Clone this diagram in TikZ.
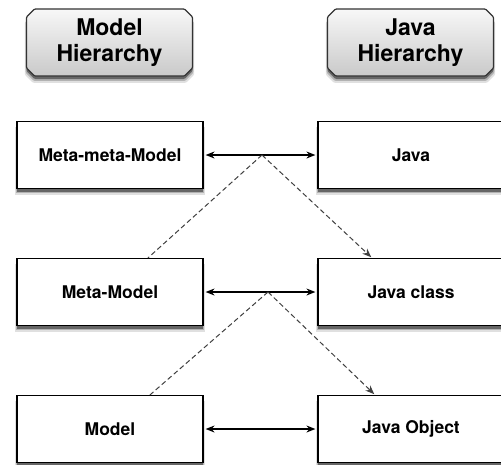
\documentclass[tikz,border=0pt]{standalone}
\usepackage{fontspec}
\setmainfont{TeX Gyre Heros}
\usetikzlibrary{arrows.meta,calc,shadows,shapes.misc}

\begin{document}
\begin{tikzpicture}[x=1pt,y=-1pt,
  softshadow/.style={
    general shadow={shadow xshift=0pt, shadow yshift=-6pt, shadow scale=1.02, fill=black!12},
    general shadow={shadow xshift=0pt, shadow yshift=-4.5pt, shadow scale=1.01, fill=black!30},
    general shadow={shadow xshift=0pt, shadow yshift=-3pt, fill=black!60}},
  hdr/.style={chamfered rectangle, chamfered rectangle xsep=4pt,
    chamfered rectangle ysep=4pt, minimum width=166, minimum height=67,
    align=center, inner sep=0, draw=black!80, line width=1.2,
    rounded corners=1pt,
    top color=gray!6, bottom color=gray!42, softshadow,
    font=\fontsize{23}{26}\selectfont\bfseries},
  box/.style={draw, line width=1.2, fill=white, minimum width=186,
    minimum height=67, inner sep=0, softshadow,
    font=\fontsize{17.5}{20}\selectfont\bfseries},
  link/.style={line width=1.2,
    {Stealth[length=9pt,width=7pt]}-{Stealth[length=9pt,width=7pt]},
    shorten <=2pt, shorten >=2pt},
  trace/.style={line width=1, black!75, dash pattern=on 5pt off 3pt},
  tracearrow/.style={trace, -{Stealth[length=9pt,width=7pt]}, shorten >=1pt}]

\fill[white] (0,0) rectangle (501,464);
\useasboundingbox (0,0) rectangle (501,464);

% column headers
\node[hdr] (mh) at (109.5,42.5) {Model\\Hierarchy};
\node[hdr] (jh) at (410.5,42.5) {Java\\Hierarchy};

% hierarchy levels
\node[box] (mmm) at (110,155) {Meta-meta-Model};
\node[box] (jv)  at (411,155) {Java};
\node[box] (mm)  at (110,292) {Meta-Model};
\node[box] (jc)  at (411,292) {Java class};
\node[box] (m)   at (110,429) {Model};
\node[box] (jo)  at (411,429) {Java Object};

% correspondences
\draw[link] (mmm) -- (jv);
\draw[link] (mm) -- (jc);
\draw[link] (m) -- (jo);

% instantiation traces
\coordinate (t1) at (262,155);
\coordinate (t2) at (268,292);
\draw[trace] (t1) -- ($(mm.north)+(38,0)$);
\draw[tracearrow] (t1) -- ($(jc.north)+(-39,0)$);
\draw[trace] (t2) -- ($(m.north)+(40,0)$);
\draw[tracearrow] (t2) -- ($(jo.north)+(-36,0)$);
\end{tikzpicture}
\end{document}
